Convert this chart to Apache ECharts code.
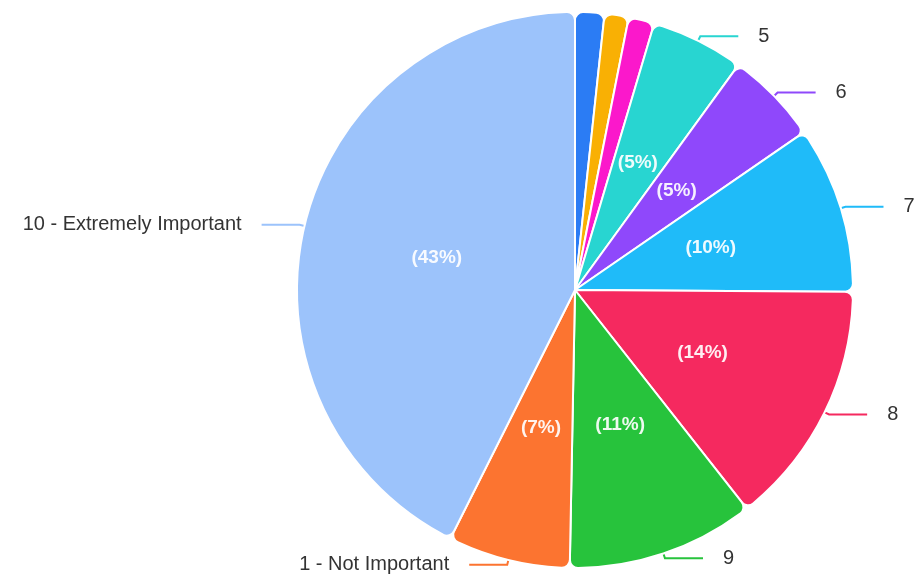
<!DOCTYPE html>
<html>
<head>
<meta charset="utf-8">
<script src="https://cdn.jsdelivr.net/npm/echarts@6/dist/echarts.min.js"></script>
<style>
  html, body { margin: 0; padding: 0; background: #fff; }
  #chart { width: 917px; height: 575px; }
</style>
</head>
<body>
<div id="chart"></div>
<script>
// 分类与数值（百分比，按顺时针从 12 点开始）
const categories = ['2', '3', '4', '5', '6', '7', '8', '9', '1 - Not Important', '10 - Extremely Important'];
const values = [1.7, 1.4, 1.5, 5.4, 5.4, 9.7, 14.3, 10.9, 7.1, 42.6];
const colors = ['#2b7cf4', '#f9b004', '#fb18cb', '#28d5d1', '#8f48fb', '#1fbbf9', '#f5295f', '#27c33c', '#fc7430', '#9cc3fb'];
// 不显示标签的小扇区
const hiddenLabels = ['2', '3', '4'];

document.addEventListener('DOMContentLoaded', function() {
    const myChart = echarts.init(document.getElementById('chart'));

    const outerData = categories.map((name, i) => {
        const hide = hiddenLabels.includes(name);
        return {
            name: name,
            value: values[i],
            itemStyle: { color: colors[i] },
            label: { show: !hide },
            labelLine: { show: !hide, lineStyle: { color: colors[i] } }
        };
    });

    const innerData = categories.map((name, i) => ({
        name: name,
        value: values[i],
        label: { show: !hiddenLabels.includes(name) }
    }));

    const option = {
        backgroundColor: '#fff',
        animation: false,
        series: [
            {
                type: 'pie',
                center: [575, 290],
                radius: 278,
                startAngle: 90,
                clockwise: true,
                avoidLabelOverlap: false,
                itemStyle: {
                    borderColor: '#fff',
                    borderWidth: 2,
                    borderRadius: 8
                },
                label: {
                    position: 'outside',
                    formatter: '{b}',
                    color: '#333',
                    fontSize: 20,
                    fontFamily: 'Liberation Sans',
                    distanceToLabelLine: 20
                },
                labelLine: {
                    length: 5,
                    length2: 38,
                    lineStyle: { width: 2 }
                },
                data: outerData
            },
            {
                type: 'pie',
                center: [575, 290],
                radius: 278,
                startAngle: 90,
                clockwise: true,
                silent: true,
                itemStyle: { color: 'transparent' },
                label: {
                    position: 'inside',
                    formatter: p => '(' + Math.round(p.percent) + '%)',
                    color: 'rgba(255,255,255,0.92)',
                    fontSize: 19,
                    fontWeight: 'bold',
                    fontFamily: 'Liberation Sans'
                },
                labelLine: { show: false },
                data: innerData
            }
        ]
    };
    myChart.setOption(option);
});
</script>
</body>
</html>
